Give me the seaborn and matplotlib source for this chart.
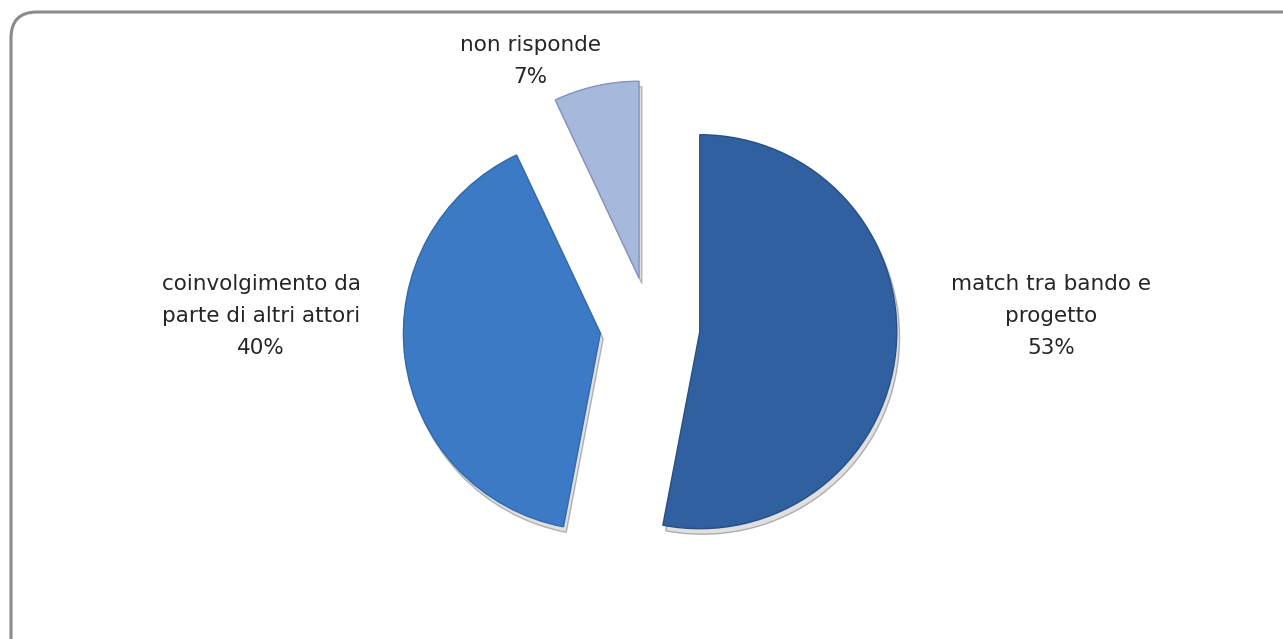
import matplotlib
matplotlib.use("Agg")
import matplotlib.pyplot as plt
from matplotlib.patches import FancyBboxPatch
import seaborn as sns

labels = ["match tra bando e\nprogetto", "coinvolgimento da\nparte di altri attori", "non risponde"]
values = [53, 40, 7]
colors = ["#30609F", "#3C7AC6", "#A6B8DC"]
edges = ["#284f85", "#3468ab", "#8394b8"]

sns.set_theme(style="white")
plt.rcParams['font.family'] = ['DejaVu Sans']

W, H = 1283, 639
fig = plt.figure(figsize=(W / 100, H / 100), dpi=100)
ax = fig.add_axes([0, 0, 1, 1])

# frame
frame = FancyBboxPatch((11, -80), 1320, H - 12 + 80, boxstyle="round,pad=0,rounding_size=26",
                       linewidth=2.2, edgecolor="#8a8a8a", facecolor="white",
                       transform=ax.transData, clip_on=False, zorder=0)
ax.add_patch(frame)

wedges, _ = ax.pie(values, colors=colors, startangle=90, counterclock=False,
                   explode=[50, 50, 50], radius=197, center=(650, H - 327),
                   wedgeprops=dict(linewidth=1.0),
                   frame=True)
for w, ec in zip(wedges, edges):
    w.set_edgecolor(ec)
    # soft grey drop shadow
    from matplotlib.patches import Shadow
    sh = Shadow(w, 2, -4, facecolor="#9a9a9a", alpha=0.3, zorder=w.get_zorder() - 0.1)
    ax.add_patch(sh)
ax.set_xlim(0, W)
ax.set_ylim(0, H)
ax.set_aspect("equal")
ax.axis("off")

label_pos = [(1051, H - 316), (261, H - 316), (530, H - 61)]
for lab, v, (x, y) in zip(labels, values, label_pos):
    ax.text(x, y, f"{lab}\n{v}%", ha="center", va="center", fontsize=15.5,
            color="#262626", linespacing=1.78)

fig.savefig("out.png", dpi=100)
